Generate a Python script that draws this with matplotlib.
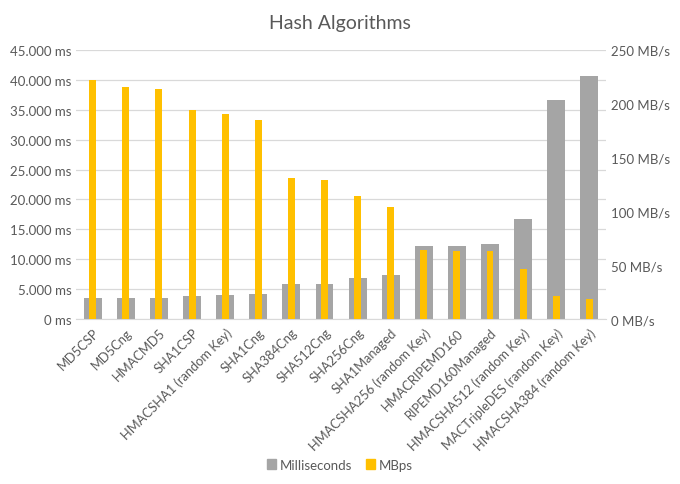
import numpy as np
import matplotlib
matplotlib.use("Agg")
import matplotlib.pyplot as plt
from matplotlib.patches import Patch
from matplotlib.ticker import FuncFormatter

plt.rcParams["font.family"] = ["Lato", "DejaVu Sans"]

algoritmos = [
    "MD5CSP", "MD5Cng", "HMACMD5", "SHA1CSP", "HMACSHA1 (random Key)",
    "SHA1Cng", "SHA384Cng", "SHA512Cng", "SHA256Cng", "SHA1Managed",
    "HMACSHA256 (random Key)", "HMACRIPEMD160", "RIPEMD160Managed",
    "HMACSHA512 (random Key)", "MACTripleDES (random Key)",
    "HMACSHA384 (random Key)",
]
milisegundos = [3480, 3530, 3530, 3930, 4040, 4150, 5950, 5950,
                6790, 7400, 12170, 12230, 12510, 16770, 36580, 40670]
mbps = [221.9, 215.7, 213.5, 194.2, 190.4, 184.8, 130.9, 129.0,
        114.4, 104.4, 64.2, 63.6, 63.3, 46.8, 21.2, 18.7]

GRIS = "#A5A5A5"
AMARILLO = "#FFC000"
TEXTO = "#595959"
REJILLA = "#D9D9D9"

fig = plt.figure(figsize=(6.8, 4.85), dpi=100)
fig.patch.set_facecolor("white")
ax = fig.add_axes([0.112, 0.340, 0.779, 0.555])
ax2 = ax.twinx()

x = np.arange(len(algoritmos))
ax.bar(x, milisegundos, width=0.54, color=GRIS, zorder=2)
ax2.bar(x, mbps, width=0.21, color=AMARILLO, zorder=3)

ax.set_xlim(-0.5, len(algoritmos) - 0.5)
ax.set_ylim(0, 45000)
ax2.set_ylim(0, 250)
ax.set_yticks(np.arange(0, 45001, 5000))
ax2.set_yticks(np.arange(0, 251, 50))
ax.yaxis.set_major_formatter(
    FuncFormatter(lambda v, p: "0 ms" if v == 0 else f"{int(v):,} ms".replace(",", ".")))
ax2.yaxis.set_major_formatter(FuncFormatter(lambda v, p: f"{int(v)} MB/s"))

ax.grid(axis="y", color=REJILLA, linewidth=0.9, zorder=0)
ax.set_axisbelow(True)
for a in (ax, ax2):
    for s in a.spines.values():
        s.set_visible(False)
    a.tick_params(length=0, colors=TEXTO, labelsize=9.5)
ax.spines["bottom"].set_visible(True)
ax.spines["bottom"].set_color(REJILLA)

ax.set_xticks(x)
ax.set_xticklabels(algoritmos, rotation=45, ha="right", rotation_mode="anchor",
                   color=TEXTO, fontsize=9.3)
ax.tick_params(axis="x", pad=5)

fig.text(0.5, 0.952, "Hash Algorithms", ha="center", va="center",
         fontsize=14, color=TEXTO)

handles = [Patch(color=GRIS, label="Milliseconds"),
           Patch(color=AMARILLO, label="MBps")]
fig.legend(handles=handles, loc="center", bbox_to_anchor=(0.5, 0.04), ncol=2,
           frameon=False, fontsize=9.5, handlelength=0.7, handleheight=0.7,
           handletextpad=0.3, columnspacing=1.0, labelcolor=TEXTO)

plt.savefig("out.png", dpi=100, facecolor="white")
plt.close()
